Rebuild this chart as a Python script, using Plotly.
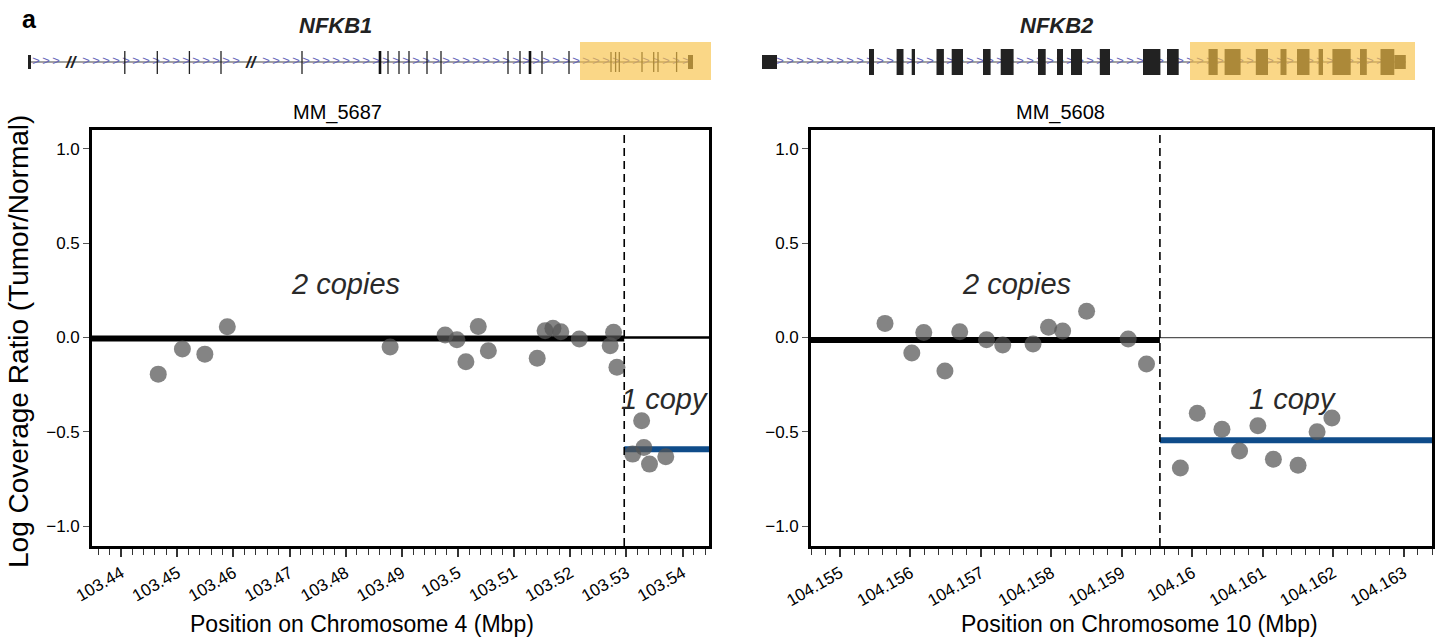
import numpy as np
import plotly.graph_objects as go

# ---------------- data ----------------
left_pos = [103.4466, 103.4509, 103.4549, 103.4589, 103.4879, 103.4977, 103.4998, 103.5014,
            103.5036, 103.5054, 103.5141, 103.5155, 103.5169, 103.5183, 103.5216, 103.5271,
            103.5277, 103.5283, 103.5311, 103.5327, 103.5331, 103.5341, 103.5370]
left_ratio = [-0.194, -0.061, -0.088, 0.057, -0.050, 0.013, -0.012, -0.128,
              0.059, -0.070, -0.110, 0.036, 0.049, 0.031, -0.008, -0.044,
              0.028, -0.158, -0.618, -0.441, -0.583, -0.671, -0.632]

right_pos = [104.15564, 104.15602, 104.15619, 104.15649, 104.15670, 104.15708, 104.15731,
             104.15774, 104.15796, 104.15816, 104.15850, 104.15909, 104.15935, 104.15983,
             104.16007, 104.16042, 104.16067, 104.16093, 104.16115, 104.16150, 104.16177,
             104.16198]
right_ratio = [0.075, -0.082, 0.027, -0.177, 0.031, -0.012, -0.040, -0.034, 0.054, 0.035,
               0.139, -0.008, -0.140, -0.691, -0.401, -0.486, -0.602, -0.468, -0.645,
               -0.677, -0.500, -0.426]

left_range = [103.4348, 103.5447]
right_range = [104.15459, 104.16340]
left_break = 103.5296
right_break = 104.15954
left_two_copy, left_one_copy = -0.005, -0.592
right_two_copy, right_one_copy = -0.013, -0.544

left_ticks = [103.44, 103.45, 103.46, 103.47, 103.48, 103.49, 103.50, 103.51, 103.52, 103.53, 103.54]
left_ticktext = ["103.44", "103.45", "103.46", "103.47", "103.48", "103.49", "103.5",
                 "103.51", "103.52", "103.53", "103.54"]
right_ticks = [104.155, 104.156, 104.157, 104.158, 104.159, 104.160, 104.161, 104.162, 104.163]
right_ticktext = ["104.155", "104.156", "104.157", "104.158", "104.159", "104.16",
                  "104.161", "104.162", "104.163"]
y_ticks = [-1.0, -0.5, 0.0, 0.5, 1.0]
y_ticktext = ["\u22121.0", "\u22120.5", "0.0", "0.5", "1.0"]

# gene-model schematics (track units)
nfkb1_span = [28, 693]
nfkb1_thin = [124.8, 157.3, 189.4, 221, 302, 388, 399, 409, 427, 441, 508, 520, 542, 569]
nfkb1_thick = [380, 530]
nfkb1_utr = [611, 615.6, 619.3, 642, 653.7, 658, 676.6]
nfkb1_breaks = [71, 251]
nfkb1_highlight = [580, 711]

nfkb2_span = [762, 1406]
nfkb2_blocks = [(762, 777), (869, 874), (896.6, 903.5), (911.7, 915), (936.5, 943.9), (951.7, 963),
                (983, 990.6), (1000.7, 1013.6), (1038, 1045.7), (1057, 1063), (1071, 1082),
                (1099.8, 1110), (1143, 1160.4), (1167, 1178.7), (1208.5, 1217.7),
                (1224.6, 1240.6), (1255.8, 1268), (1280.5, 1286.5), (1297, 1309.5),
                (1318.6, 1323), (1332.4, 1350.7), (1360, 1366.8), (1380.5, 1394.3)]
nfkb2_small = [(1394.3, 1405.8)]
nfkb2_highlight = [1190, 1415]

FONT = "Liberation Sans, Arial, sans-serif"
W, H = 1440, 643
PT_COLOR = "rgb(85,85,85)"
BLUE = "#0f4c8a"
HL = "rgb(248,194,70)"

fig = go.Figure()

def px_x(p):
    return p / W

def px_y(p):
    return 1 - p / H

# ---------------- data panels ----------------
for xa, ya, pos, ratio, rng, brk, two, one in [
    ("x", "y", left_pos, left_ratio, left_range, left_break, left_two_copy, left_one_copy),
    ("x2", "y2", right_pos, right_ratio, right_range, right_break, right_two_copy, right_one_copy),
]:
    thin_col = "black" if xa == "x" else "#555"
    thin_w = 2.5 if xa == "x" else 1.2
    fig.add_trace(go.Scatter(x=rng, y=[0, 0], mode="lines", line=dict(color=thin_col, width=thin_w),
                             xaxis=xa, yaxis=ya, showlegend=False, hoverinfo="skip"))
    fig.add_trace(go.Scatter(x=[rng[0], brk], y=[two, two], mode="lines",
                             line=dict(color="black", width=6),
                             xaxis=xa, yaxis=ya, showlegend=False, hoverinfo="skip"))
    fig.add_trace(go.Scatter(x=[brk, rng[1]], y=[one, one], mode="lines",
                             line=dict(color=BLUE, width=6),
                             xaxis=xa, yaxis=ya, showlegend=False, hoverinfo="skip"))
    fig.add_trace(go.Scatter(x=pos, y=ratio, mode="markers",
                             marker=dict(color=PT_COLOR, size=17, opacity=0.72, line=dict(width=0)),
                             xaxis=xa, yaxis=ya, showlegend=False))
    fig.add_shape(type="line", xref=xa, yref=f"{ya} domain", x0=brk, x1=brk, y0=0, y1=1,
                  line=dict(color="black", width=1.6, dash="8px,5px"))

# ---------------- gene tracks ----------------
TRACK_Y = 62
for xa, span, gaps in [("x3", nfkb1_span, nfkb1_breaks), ("x4", nfkb2_span, [])]:
    fig.add_trace(go.Scatter(x=span, y=[TRACK_Y, TRACK_Y], mode="lines",
                             line=dict(color="#444", width=1.2), xaxis=xa, yaxis="y3",
                             showlegend=False, hoverinfo="skip"))
    chev = np.arange(span[0] + 8, span[1] - 4, 10)
    chev = [c for c in chev if all(abs(c - g) > 7 for g in gaps)]
    fig.add_trace(go.Scatter(x=chev, y=[TRACK_Y] * len(chev), mode="text", text=[">"] * len(chev),
                             textfont=dict(color="#6666b8", size=13, family=FONT),
                             xaxis=xa, yaxis="y3", showlegend=False, hoverinfo="skip"))

# NFKB1 exon marks
fig.add_shape(type="rect", xref="x3", yref="y3", x0=nfkb1_span[0], x1=nfkb1_span[0] + 3,
              y0=55, y1=69, fillcolor="#222", line_width=0)
for xv in nfkb1_thin:
    fig.add_shape(type="line", xref="x3", yref="y3", x0=xv, x1=xv, y0=51, y1=74,
                  line=dict(color="#222", width=1.3))
for xv in nfkb1_thick:
    fig.add_shape(type="line", xref="x3", yref="y3", x0=xv, x1=xv, y0=51, y1=74,
                  line=dict(color="#111", width=2.6))
for xv in nfkb1_utr:
    fig.add_shape(type="line", xref="x3", yref="y3", x0=xv, x1=xv, y0=52, y1=72,
                  line=dict(color="#222", width=1.3))
fig.add_shape(type="rect", xref="x3", yref="y3", x0=nfkb1_span[1] - 5, x1=nfkb1_span[1],
              y0=55, y1=69, fillcolor="#222", line_width=0)
for xv in nfkb1_breaks:
    fig.add_annotation(x=xv, y=TRACK_Y, xref="x3", yref="y3", text="<b><i>//</i></b>", showarrow=False,
                       xanchor="center", yanchor="middle",
                       font=dict(family=FONT, size=17, color="#222"))

# NFKB2 exon blocks
for a, b in nfkb2_blocks:
    y0, y1 = (55, 69) if a == nfkb2_blocks[0][0] else (49, 75)
    fig.add_shape(type="rect", xref="x4", yref="y3", x0=a, x1=b, y0=y0, y1=y1,
                  fillcolor="#222", line_width=0)
for a, b in nfkb2_small:
    fig.add_shape(type="rect", xref="x4", yref="y3", x0=a, x1=b, y0=55, y1=69,
                  fillcolor="#222", line_width=0)

# highlight boxes
for xa, hl in [("x3", nfkb1_highlight), ("x4", nfkb2_highlight)]:
    fig.add_shape(type="rect", xref=xa, yref="y3", x0=hl[0], x1=hl[1], y0=42, y1=80,
                  fillcolor=HL, opacity=0.65, line_width=0, layer="above")

# ---------------- annotations ----------------
ann_font = dict(family=FONT, size=29, color="#2a2a2a")
for xa, ya, xc, yc, txt in [
    ("x", "y", 103.4799, 0.284, "<i>2 copies</i>"),
    ("x", "y", 103.5367, -0.326, "<i>1 copy</i>"),
    ("x2", "y2", 104.15751, 0.284, "<i>2 copies</i>"),
    ("x2", "y2", 104.16142, -0.326, "<i>1 copy</i>"),
]:
    fig.add_annotation(x=xc, y=yc, xref=xa, yref=ya, text=txt, showarrow=False,
                       xanchor="center", yanchor="middle", font=ann_font)

def paper_text(xp, yp, text, size, color="black", angle=0):
    fig.add_annotation(x=px_x(xp), y=px_y(yp), xref="paper", yref="paper", text=text,
                       showarrow=False, xanchor="center", yanchor="middle", textangle=angle,
                       font=dict(family=FONT, size=size, color=color))

paper_text(337, 113, "MM_5687", 20)
paper_text(1060, 113, "MM_5608", 20)
paper_text(335, 25, "<b><i>NFKB1</i></b>", 22, "#222")
paper_text(1057, 25, "<b><i>NFKB2</i></b>", 22, "#222")
paper_text(29, 19, "<b>a</b>", 25)
paper_text(362, 624, "Position on Chromosome 4 (Mbp)", 23)
paper_text(1139, 624, "Position on Chromosome 10 (Mbp)", 23)
paper_text(18, 342, "Log Coverage Ratio (Tumor/Normal)", 28, angle=-90)

# ---------------- axes ----------------
y_dom = [px_y(546), px_y(130)]

def xaxis_cfg(dom, rng, tv, tt, minor_dt, anchor):
    return dict(domain=dom, range=rng, tickvals=tv, ticktext=tt, tickangle=-30,
                ticks="outside", ticklen=8, tickwidth=2, tickcolor="#333",
                minor=dict(dtick=minor_dt, tick0=tv[0], ticks="outside", ticklen=6, tickwidth=1.4,
                           tickcolor="#333", showgrid=False),
                showline=True, linecolor="black", linewidth=2.6, mirror=True,
                showgrid=False, zeroline=False, anchor=anchor, automargin=False,
                tickfont=dict(family=FONT, size=17, color="black"))

def yaxis_cfg(anchor):
    return dict(domain=y_dom, range=[-1.105, 1.1], tickvals=y_ticks, ticktext=y_ticktext,
                ticks="outside", ticklen=6, tickwidth=1, tickcolor="#555",
                showline=True, linecolor="black", linewidth=2.6, mirror=True,
                showgrid=False, zeroline=False, anchor=anchor, automargin=False,
                tickfont=dict(family=FONT, size=17, color="black"))

fig.update_layout(
    template="none",
    width=W, height=H, margin=dict(l=0, r=0, t=0, b=0, autoexpand=False),
    paper_bgcolor="white", plot_bgcolor="white", showlegend=False,
    xaxis=xaxis_cfg([px_x(92), px_x(709)], left_range, left_ticks, left_ticktext, 0.002, "y"),
    yaxis=yaxis_cfg("x"),
    xaxis2=xaxis_cfg([px_x(811), px_x(1432)], right_range, right_ticks, right_ticktext, 0.0002, "y2"),
    yaxis2=yaxis_cfg("x2"),
    xaxis3=dict(domain=[0, 0.5], range=[0, 720], visible=False, anchor="y3", fixedrange=True,
                automargin=False),
    xaxis4=dict(domain=[0.5, 1], range=[720, 1440], visible=False, anchor="y3", fixedrange=True,
                automargin=False),
    yaxis3=dict(domain=[px_y(100), px_y(25)], range=[100, 25], visible=False, anchor="x3",
                fixedrange=True, automargin=False),
)

fig.write_html("out.html")
